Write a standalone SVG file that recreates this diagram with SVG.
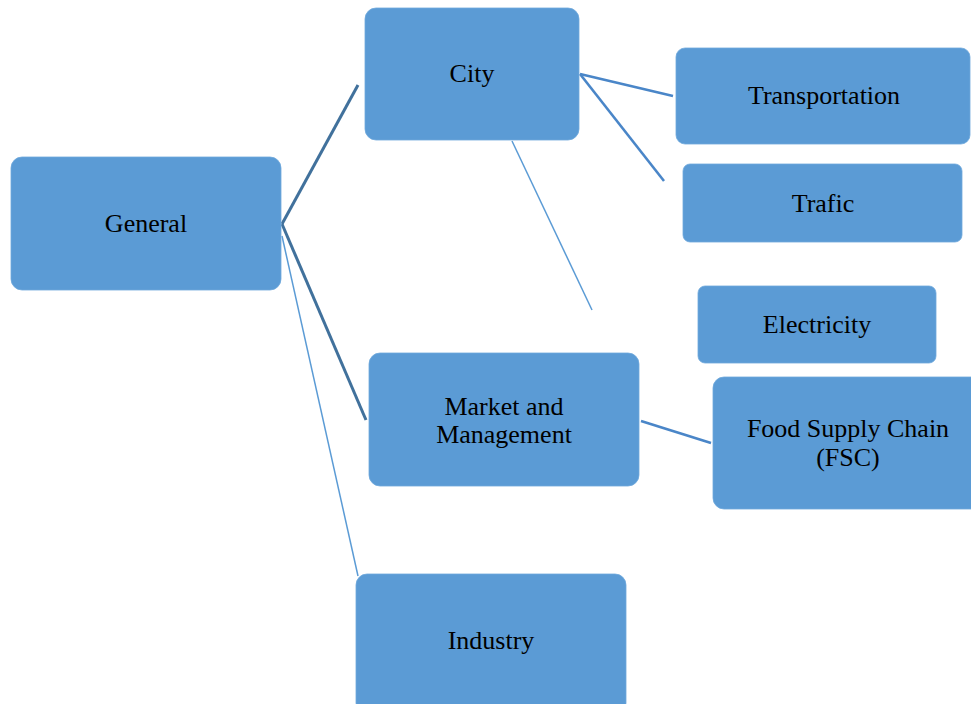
<svg xmlns="http://www.w3.org/2000/svg" width="971" height="704" viewBox="0 0 971 704">
<style>
.box{fill:#5B9BD5;stroke:#6FA8DC;stroke-width:0.8}
.t{font-family:"Liberation Serif","Times New Roman",serif;font-size:26px;fill:#000;text-anchor:middle}
.thick{stroke:#41719C;stroke-width:3;fill:none}
.mid{stroke:#4A86C8;stroke-width:2.6;fill:none}
.thin{stroke:#5B9BD5;stroke-width:1.5;fill:none}
</style>
<rect width="971" height="704" fill="#fff"/>
<g id="connectors">
<line class="thick" x1="282" y1="224" x2="358" y2="85"/>
<line class="thick" x1="282" y1="224" x2="366" y2="420"/>
<line class="thin" x1="282" y1="236" x2="358" y2="576"/>
<line class="mid" x1="580" y1="74" x2="673" y2="96"/>
<line class="mid" x1="580" y1="74" x2="664" y2="181"/>
<line class="thin" x1="512" y1="141" x2="592" y2="310"/>
<line class="mid" x1="641" y1="421" x2="711" y2="443"/>
</g>
<g id="general"><rect class="box" x="11" y="157" width="270" height="133" rx="11"/><text class="t" x="146" y="232">General</text></g>
<g id="city"><rect class="box" x="365" y="8" width="214" height="132" rx="11"/><text class="t" x="472" y="82">City</text></g>
<g id="transportation"><rect class="box" x="676" y="48" width="294" height="96" rx="9"/><text class="t" x="824" y="104">Transportation</text></g>
<g id="trafic"><rect class="box" x="683" y="164" width="279" height="78" rx="7"/><text class="t" x="823" y="212">Trafic</text></g>
<g id="electricity"><rect class="box" x="698" y="286" width="238" height="77" rx="7"/><text class="t" x="817" y="333">Electricity</text></g>
<g id="market"><rect class="box" x="369" y="353" width="270" height="133" rx="11"/><text class="t" x="504" y="415">Market and</text><text class="t" x="504" y="443">Management</text></g>
<g id="fsc"><rect class="box" x="713" y="377" width="270" height="132" rx="11"/><text class="t" x="848" y="437">Food Supply Chain</text><text class="t" x="848" y="466">(FSC)</text></g>
<g id="industry"><rect class="box" x="356" y="574" width="270" height="140" rx="11"/><text class="t" x="491" y="649">Industry</text></g>
</svg>
